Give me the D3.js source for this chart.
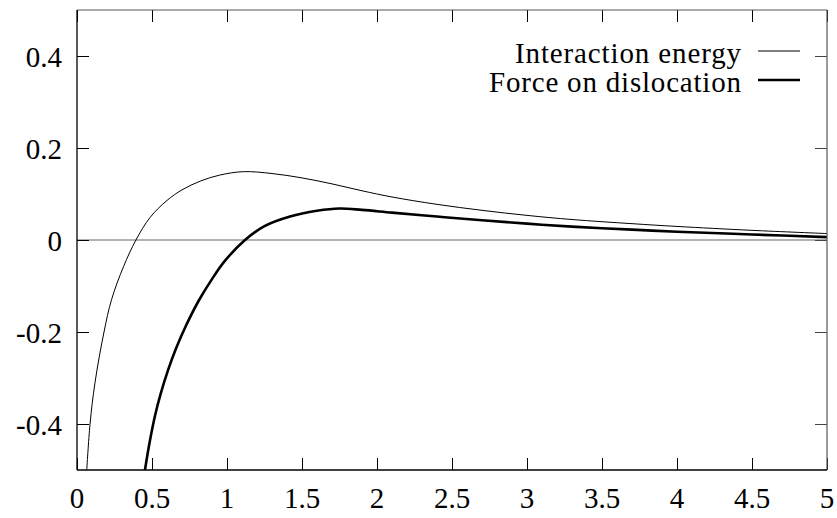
<!DOCTYPE html>
<html>
<head>
<meta charset="utf-8">
<script src="https://cdn.jsdelivr.net/npm/d3@7"></script>
<style>
  html, body { margin: 0; padding: 0; background: #fff; }
  svg { display: block; }
</style>
</head>
<body>
<svg id="chart" width="837" height="518"></svg>
<script>
// ---- data ----
const xTicks = [0, 0.5, 1, 1.5, 2, 2.5, 3, 3.5, 4, 4.5, 5];
const xTickLabels = ["0", "0.5", "1", "1.5", "2", "2.5", "3", "3.5", "4", "4.5", "5"];
const yTicks = [-0.4, -0.2, 0, 0.2, 0.4];
const yTickLabels = ["-0.4", "-0.2", "0", "0.2", "0.4"];
const seriesNames = ["Interaction energy", "Force on dislocation"];

const energyX = [0.065, 0.087, 0.12, 0.18, 0.23, 0.31, 0.393, 0.487, 0.6, 0.7, 0.822, 0.95, 1.11, 1.3, 1.5, 1.7, 1.9, 2.1, 2.4, 2.7, 3.0, 3.3, 3.7, 4.0, 4.5, 5.0];
const energyY = [-0.5, -0.4, -0.31, -0.2, -0.13, -0.058, 0, 0.049, 0.086, 0.109, 0.128, 0.141, 0.1486, 0.1445, 0.135, 0.122, 0.107, 0.0935, 0.0775, 0.0645, 0.0535, 0.0445, 0.0355, 0.0295, 0.021, 0.014];

const forceX = [0.453, 0.487, 0.52, 0.56, 0.607, 0.66, 0.727, 0.813, 0.9, 0.987, 1.12, 1.25, 1.42, 1.6, 1.75, 1.9, 2.1, 2.4, 2.7, 3.0, 3.3, 3.7, 4.0, 4.5, 5.0];
const forceY = [-0.5, -0.435, -0.382, -0.332, -0.283, -0.236, -0.186, -0.131, -0.085, -0.045, 0, 0.030, 0.051, 0.0635, 0.0685, 0.0655, 0.0595, 0.051, 0.0428, 0.0355, 0.029, 0.0225, 0.018, 0.012, 0.0062];

// ---- layout ----
const svg = d3.select("#chart");
const L = 77, R = 827, T = 10, B = 470;
const xS = d3.scaleLinear().domain([0, 5]).range([L, R]);
const yS = d3.scaleLinear().domain([-0.5, 0.5]).range([B, T]);
const FS = 29;
const FONT = "'Liberation Serif', 'Times New Roman', 'DejaVu Serif', serif";

svg.append("defs").append("clipPath").attr("id", "clip")
  .append("rect").attr("x", L).attr("y", T).attr("width", R - L).attr("height", B - T);

// zero line
svg.append("line")
  .attr("x1", L).attr("x2", R).attr("y1", yS(0)).attr("y2", yS(0))
  .attr("stroke", "#666").attr("stroke-width", 1.2);

// axes (ticks inside, mirrored)
const tickLen = 12;
const axBottom = svg.append("g").attr("transform", `translate(0,${B})`)
  .call(d3.axisTop(xS).tickValues(xTicks).tickSize(tickLen).tickFormat(""));
const axTop = svg.append("g").attr("transform", `translate(0,${T})`)
  .call(d3.axisBottom(xS).tickValues(xTicks).tickSize(tickLen).tickFormat(""));
const axLeft = svg.append("g").attr("transform", `translate(${L},0)`)
  .call(d3.axisRight(yS).tickValues(yTicks).tickSize(tickLen).tickFormat(""));
const axRight = svg.append("g").attr("transform", `translate(${R},0)`)
  .call(d3.axisLeft(yS).tickValues(yTicks).tickSize(tickLen).tickFormat(""));
[axBottom, axTop, axLeft, axRight].forEach(g => {
  g.select(".domain").remove();
  g.selectAll(".tick line").attr("stroke", "#000").attr("stroke-width", 1);
});
axRight.selectAll(".tick line").attr("stroke", "#444");

// tick labels
svg.append("g").selectAll("text").data(xTicks).join("text")
  .attr("x", d => xS(d)).attr("y", 508)
  .attr("text-anchor", "middle").attr("font-size", FS).attr("font-family", FONT)
  .attr("fill", "#000")
  .text((d, i) => xTickLabels[i]);
svg.append("g").selectAll("text").data(yTicks).join("text")
  .attr("x", 62).attr("y", d => yS(d) + 10.5)
  .attr("text-anchor", "end").attr("font-size", FS).attr("font-family", FONT)
  .attr("fill", "#000")
  .text((d, i) => yTickLabels[i]);

// curves
const lineGen = d3.line().x(d => xS(d[0])).y(d => yS(d[1])).curve(d3.curveCatmullRom.alpha(0.5));
const energy = energyX.map((v, i) => [v, energyY[i]]);
const force = forceX.map((v, i) => [v, forceY[i]]);
const plot = svg.append("g").attr("clip-path", "url(#clip)");
plot.append("path").datum(energy).attr("d", lineGen)
  .attr("fill", "none").attr("stroke", "#000").attr("stroke-width", 1);
plot.append("path").datum(force).attr("d", lineGen)
  .attr("fill", "none").attr("stroke", "#000").attr("stroke-width", 2.6);

// frame
svg.append("line").attr("x1", L).attr("x2", R).attr("y1", T).attr("y2", T).attr("stroke", "#555").attr("stroke-width", 1.2);
svg.append("line").attr("x1", R).attr("x2", R).attr("y1", T).attr("y2", B).attr("stroke", "#555").attr("stroke-width", 1.2);
svg.append("line").attr("x1", L).attr("x2", L).attr("y1", T).attr("y2", B).attr("stroke", "#000").attr("stroke-width", 1.3);
svg.append("line").attr("x1", L).attr("x2", R).attr("y1", B).attr("y2", B).attr("stroke", "#000").attr("stroke-width", 1.3);

// legend
const legY = [51, 80];
const legW = [1, 2.6];
const legLen = [226, 252];
const leg = svg.append("g");
seriesNames.forEach((name, i) => {
  leg.append("text").attr("x", 741).attr("y", legY[i] + 12)
    .attr("text-anchor", "end").attr("font-size", FS).attr("font-family", FONT)
    .attr("fill", "#000")
    .attr("textLength", legLen[i]).attr("lengthAdjust", "spacing")
    .text(name);
  leg.append("line").attr("x1", 758).attr("x2", 800)
    .attr("y1", legY[i]).attr("y2", legY[i])
    .attr("stroke", "#000").attr("stroke-width", legW[i]);
});
</script>
</body>
</html>
